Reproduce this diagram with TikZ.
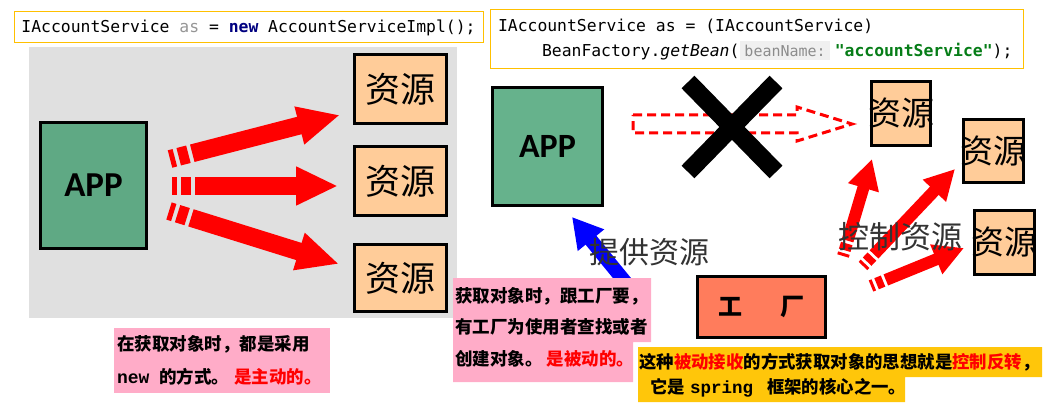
\documentclass[tikz,border=0pt]{standalone}
\usepackage{fontspec}
\usetikzlibrary{arrows.meta,shapes.misc}
\newfontfamily\cjk{Noto Sans CJK SC}
\newfontfamily\codefont{DejaVu Sans Mono}
\newfontfamily\courfont{Liberation Mono}
\newfontfamily\appfont{Carlito}
\definecolor{CodeYellow}{RGB}{255,192,0}
\definecolor{AsGray}{RGB}{150,150,150}
\definecolor{NewNavy}{RGB}{0,0,128}
\definecolor{StrGreen}{RGB}{6,125,23}
\definecolor{HintGray}{RGB}{140,140,140}
\definecolor{HintBg}{RGB}{240,240,240}
\definecolor{PanelGray}{RGB}{224,224,224}
\definecolor{AppGreen}{RGB}{95,169,132}
\definecolor{AppGreenLight}{RGB}{102,178,140}
\definecolor{ResPeach}{RGB}{255,204,153}
\definecolor{NotePink}{RGB}{255,172,200}
\definecolor{FactoryCoral}{RGB}{255,124,92}
\definecolor{CaptionYellow}{RGB}{255,198,10}
\newcommand\hintbox[1]{\hspace{1pt}{\setlength{\fboxsep}{4pt}\colorbox{HintBg}{\color{HintGray}\fontsize{15}{15}\selectfont #1}}\hspace{5pt}}

\begin{document}
\begin{tikzpicture}[x=1pt, y=-1pt,
    code/.style={draw=CodeYellow, line width=1pt, fill=white, inner ysep=0pt, font=\codefont\fontsize{16.4}{25}\selectfont},
    app/.style={draw=black, line width=3pt, inner sep=0pt, font=\appfont\bfseries\fontsize{35}{35}\selectfont},
    res/.style={draw=black, line width=3pt, fill=ResPeach, inner sep=0pt, font=\cjk\fontsize{35}{35}\selectfont},
    fat/.style={red, line width=18pt, -{Triangle[length=42pt,width=36pt]}, dash pattern=on 5pt off 4pt on 10pt off 4pt on 400pt},
    slim/.style={red, line width=12pt, -{Triangle[length=30pt,width=30pt]}, dash pattern=on 3pt off 3pt on 7pt off 3pt on 400pt},
    caption/.style={inner sep=0pt, align=left, font=\cjk\bfseries\fontsize{17.5}{31.5}\selectfont},
    bigword/.style={inner sep=0pt, text=black!80, font=\cjk\fontsize{30}{30}\selectfont}
]
    \useasboundingbox (0,0) rectangle (1056,414);

    % code snippets
    \node[code, minimum width=469pt, minimum height=31pt] (codeNew) at (248.5,27.5)
        {IAccountService {\color{AsGray}as} = {\color{NewNavy}\bfseries new} AccountServiceImpl();};
    \node[code, inner xsep=8pt, text width=517pt, align=left, minimum height=59pt] (codeBean) at (756.5,39.5)
        {\spaceskip=9.87pt\relax IAccountService as = (IAccountService)\\
         \hspace*{44pt}BeanFactory.{\itshape getBean}(\hintbox{beanName:}{\color{StrGreen}\bfseries "accountService"});};

    % left: app fetches resources itself
    \node[fill=PanelGray, inner sep=0pt, minimum width=428pt, minimum height=271pt] (panel) at (243,182.5) {};
    \node[app, fill=AppGreen, minimum width=106pt, minimum height=126pt] (appLeft) at (93.5,185.5) {APP};
    \node[res, minimum width=92pt, minimum height=69pt] (resA) at (400.5,89) {资源};
    \node[res, minimum width=92pt, minimum height=69pt] (resB) at (400.5,181) {资源};
    \node[res, minimum width=92pt, minimum height=67pt] (resC) at (400.5,278) {资源};

    \coordinate (tailA) at (170,159);
    \coordinate (tailB) at (172,186);
    \coordinate (tailC) at (169,211);
    \coordinate (tipA) at (340,115);
    \coordinate (tipB) at (338,186);
    \coordinate (tipC) at (339,264);
    \draw[fat] (tailA) -- (tipA);
    \draw[fat] (tailB) -- (tipB);
    \draw[fat] (tailC) -- (tipC);

    % right: factory hands resources over
    \node[app, fill=AppGreenLight, font=\appfont\bfseries\fontsize{34}{34}\selectfont, minimum width=110pt, minimum height=118pt] (appRight) at (547.5,146.5) {APP};

    \coordinate (blockTail) at (633,124);
    \draw[red, line width=3pt, dash pattern=on 9pt off 5pt]
        (blockTail) ++(0,-9) -- ++(164,0) -- ++(0,-8) -- ++(55,17) -- ++(-55,17) -- ++(0,-8) -- ++(-164,0) -- cycle;
    \node[cross out, draw=black, line width=18pt, inner sep=0pt, minimum width=70pt, minimum height=72pt] (cross) at (732,127) {};

    \node[res, minimum width=59pt, minimum height=64pt, font=\cjk\fontsize{33}{33}\selectfont] (resD) at (901,113.5) {\makebox[0pt]{资源}};
    \node[res, minimum width=60pt, minimum height=63pt, font=\cjk\fontsize{33}{33}\selectfont] (resE) at (993.5,151) {\makebox[0pt]{资源}};
    \node[res, minimum width=60pt, minimum height=64pt, font=\cjk\fontsize{33}{33}\selectfont] (resF) at (1004.5,242.5) {\makebox[0pt]{资源}};

    \coordinate (tailD) at (843,256);
    \coordinate (tailE) at (863,266);
    \coordinate (tailF) at (871,286);
    \coordinate (tipD) at (872,159);
    \coordinate (tipE) at (955,169);
    \coordinate (tipF) at (964,248);
    \draw[slim] (tailD) -- (tipD);
    \draw[slim] (tailE) -- (tipE);
    \draw[slim] (tailF) -- (tipF);
    \node[bigword, font=\cjk\fontsize{31}{31}\selectfont] (control) at (900,237) {控制资源};

    \coordinate (supplyTail) at (644,305);
    \coordinate (supplyTip) at (572,217);
    \draw[blue, line width=14pt, -{Triangle[length=30pt,width=32pt]}] (supplyTail) -- (supplyTip);
    \node[bigword] (supply) at (649,252) {提供资源};

    % notes
    \node[caption, fill=NotePink, inner xsep=3pt, text width=210pt, minimum height=65pt, font=\cjk\bfseries\fontsize{17.5}{33}\selectfont] (activeNote) at (222,360.5)
        {在获取对象时，都是采用\\{\courfont\fontsize{18}{18}\selectfont new}\hspace{10pt}的方式。\hspace{5pt}{\color{red}是主动的。}};

    \fill[NotePink] (453,278) -- (651,278) -- (651,342) -- (633,342) -- (633,382) -- (453,382) -- cycle;
    \node[caption, anchor=west] (passiveNote) at (455,327)
        {获取对象时，跟工厂要，\\有工厂为使用者查找或者\\创建对象。\hspace{4pt}{\color{red}是被动的。}};

    \node[draw=black, line width=3pt, fill=FactoryCoral, inner sep=0pt, minimum width=128pt, minimum height=61pt, font=\cjk\bfseries\fontsize{24}{24}\selectfont] (factory) at (761.5,307) {工\hspace{38pt}厂};

    \fill[CaptionYellow] (638,347) -- (1042,347) -- (1042,377) -- (905,377) -- (905,402) -- (638,402) -- cycle;
    \node[caption, anchor=west, font=\cjk\bfseries\fontsize{17.4}{25}\selectfont] (iocNote) at (639,375.5)
        {这种{\color{red}被动接收}的方式获取对象的思想就是{\color{red}控制反转}，\\
         \hspace*{11pt}它是\hspace{5pt}{\courfont\fontsize{17.5}{17.5}\selectfont\bfseries spring}\hspace{14pt}框架的核心之一。};
\end{tikzpicture}
\end{document}
